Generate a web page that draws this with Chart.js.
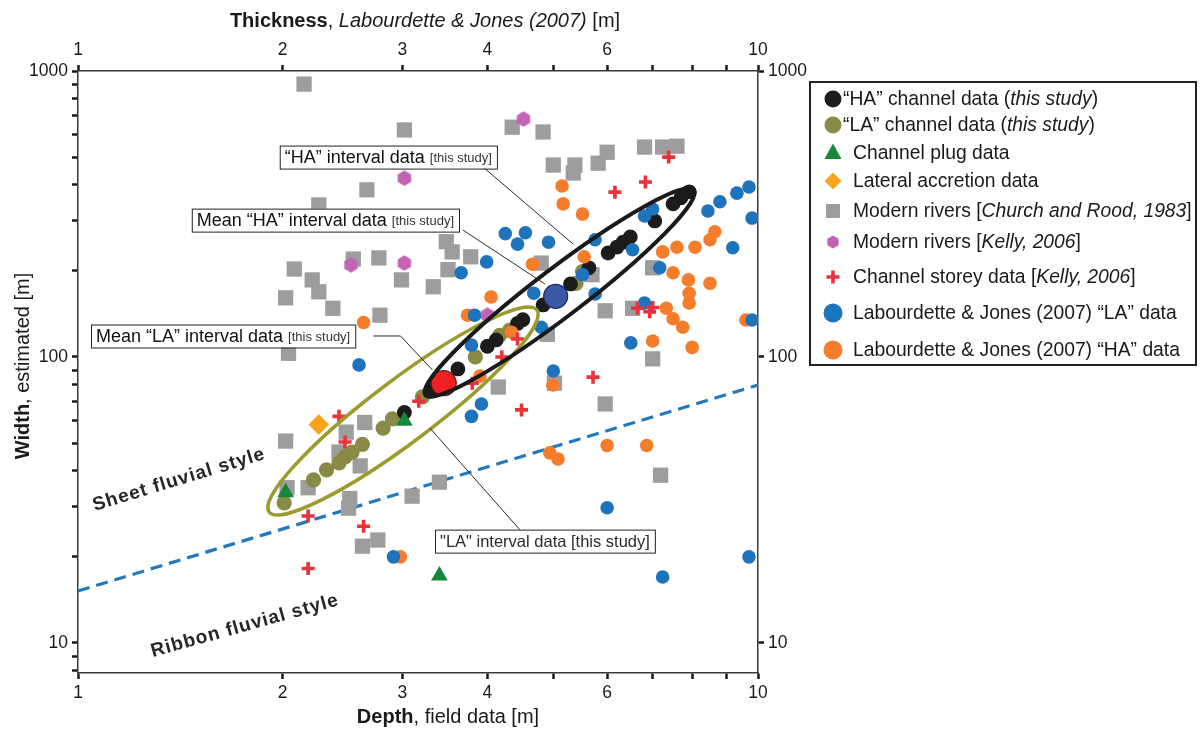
<!DOCTYPE html>
<html>
<head>
<meta charset="utf-8">
<title>Channel width vs depth</title>
<script src="https://cdn.jsdelivr.net/npm/chart.js@4.4.1/dist/chart.umd.min.js"></script>
<style>
html,body{margin:0;padding:0;background:#fff;overflow:hidden;}
#box{position:relative;width:1203px;height:731px;}
</style>
</head>
<body>
<div id="box"><canvas id="chart" width="1203" height="731"></canvas></div>
<script>
// ---------- axis ticks ----------
const depthTickValues = [1,2,3,4,5,6,7,8,9,10];
const depthTickLabels = [1,2,3,4,6,10];
const widthTickValues = [8,9,10,20,30,40,50,60,70,80,90,100,200,300,400,500,600,700,800,900,1000];
const widthTickLabels = [10,100,1000];

// ---------- series (depth [m], width [m]) ----------
const haChannelDepth = [7.92,7.7,7.5,7.05,6.49,6.33,6.2,6.02,5.64,5.3,4.83,4.51,4.43,4.12,4.0,3.62,3.31,3.02];
const haChannelWidth = [378,360,343,299,263,252,242,231,205,180,152,135,131,114.7,109,90.8,76.7,64];

const laChannelDepth = [2.01,2.22,2.32,2.42,2.47,2.53,2.62,2.81,2.9,3.21,3.84,4.17,4.31,5.4,5.52];
const laChannelWidth = [30.9,37.2,40.3,42.6,44.7,46.5,49.5,56.4,60.7,72.5,100,119,124,181,199];

const plugDepth = [2.02,3.02,3.4];
const plugWidth = [33.6,59.7,17.2];

const lateralDepth = [2.26];
const lateralWidth = [58];

const churchDepth = [2.15,3.02,2.66,2.26,2.54,2.77,2.08,2.21,2.99,2.26,2.02,2.37,2.78,2.04,4.83,4.35,3.48,3.55,3.78,3.50,3.33,4.80,5.00,5.38,5.35,5.82,6.00,6.81,7.24,7.60,5.70,7.00,5.96,6.54,7.00,4.90,4.15,5.02,5.96,7.19,3.40,3.10,2.02,2.64,2.48,2.42,2.60,2.18,2.03,2.51,2.50,2.76,2.62];
const churchWidth = [900,622,384,340,220,222,203,186,186,169,161,148,140,103,612,636,253,233,224,202,176,213,469,469,440,476,520,542,542,546,194,205,145,148,98.5,120,78.5,81,68.5,38.6,36.5,32.6,50.8,59,54.6,46.5,41.6,34.9,34.9,32,29.6,22.9,21.8];

const kellyRiverDepth = [4.52,3.02,2.52,3.02,4.0];
const kellyRiverWidth = [679,422,210,213,140];

const storeyDepth = [7.39,6.16,6.83,6.65,7.0,6.93,4.43,4.2,3.8,5.72,4.49,3.17,2.42,2.47,2.18,2.63,2.18];
const storeyWidth = [500,377,409,148,149,144,115.6,100,81,85,65.3,70,62,50.4,27.8,25.6,18.2];

const ljLaDepth = [4.25,4.55,4.43,4.92,3.99,3.66,5.76,6.54,6.81,7.0,8.44,8.79,9.31,9.7,9.8,9.18,7.17,5.52,5.76,4.68,3.83,4.8,3.79,6.5,9.8,6.81,5.0,3.92,3.79,6.0,9.7,7.24,2.91,2.59];
const ljLaWidth = [270,272,248,252,215,197,257,237,311,329,324,349,374,393,306,241,205,194,166,167,140,127,110,112,134.7,154.5,89.3,68.5,62,29.7,20,17.0,20,93.8];

const ljHaDepth = [5.15,5.17,5.52,4.66,5.55,4.05,3.74,4.34,7.24,7.6,8.08,8.5,8.64,7.5,7.9,8.5,7.92,7.92,7.33,7.5,7.75,8.0,7.0,9.6,3.9,4.99,4.94,5.08,6.0,6.86,2.98,2.63];
const ljHaWidth = [396,343,316,211,224,162,140,122,233,242,242,257,274,197,186,181,167,154.5,148,136,127,108,113.7,134.7,85.8,79.8,46.2,44,49,49,20,132];

const meanHaDepth = [5.04];
const meanHaWidth = [163];
const meanLaDepth = [3.45];
const meanLaWidth = [81];

const boundaryDepth = [1,10];
const boundaryWidth = [15.2,79.8];

// ---------- labels ----------
const seriesNames = [
  '“HA” channel data (this study)',
  '“LA” channel data (this study)',
  'Channel plug data',
  'Lateral accretion data',
  'Modern rivers [Church and Rood, 1983]',
  'Modern rivers [Kelly, 2006]',
  'Channel storey data [Kelly, 2006]',
  'Labourdette & Jones (2007) “LA” data',
  'Labourdette & Jones (2007) “HA” data'
];

const FONT = "'Liberation Sans', Arial, Helvetica, sans-serif";
const C = {
  black:'#1c1c1c', olive:'#8a8a47', green:'#14883d', amber:'#f8a41c', gray:'#9d9d9d',
  pink:'#c462b4', red:'#e8333b', blue:'#1e74bc', orange:'#f47c2b',
  meanRed:'#ee2024', meanBlue:'#3b58a6', dash:'#2379bd', oliveRing:'#9c9c2e'
};

function pts(xs, ys){ return xs.map((v,i)=>({x:v, y:ys[i]})); }

function hexCanvas(size, color){
  const c = document.createElement('canvas');
  c.width = size; c.height = size;
  const g = c.getContext('2d');
  const r = size/2;
  g.fillStyle = color;
  g.beginPath();
  for(let i=0;i<6;i++){
    const a = Math.PI/3*i - Math.PI/2;
    const X = r + (r-0.3)*Math.cos(a), Y = r + (r-0.3)*Math.sin(a);
    if(i) g.lineTo(X,Y); else g.moveTo(X,Y);
  }
  g.closePath(); g.fill();
  return c;
}
const hexPoint = hexCanvas(16, C.pink);

const datasets = [
  {label:'Mean “LA” interval data', data:pts(meanLaDepth,meanLaWidth), pointStyle:'circle', pointRadius:12.5,
   backgroundColor:C.meanRed, borderColor:'#5a1a1a', borderWidth:1.2, order:0},
  {label:'Mean “HA” interval data', data:pts(meanHaDepth,meanHaWidth), pointStyle:'circle', pointRadius:12,
   backgroundColor:C.meanBlue, borderColor:'#1d2b5c', borderWidth:1.2, order:0},
  {label:seriesNames[0], data:pts(haChannelDepth,haChannelWidth), pointStyle:'circle', pointRadius:7.4,
   backgroundColor:C.black, borderWidth:0, order:6},
  {label:seriesNames[1], data:pts(laChannelDepth,laChannelWidth), pointStyle:'circle', pointRadius:7.6,
   backgroundColor:C.olive, borderWidth:0, order:7},
  {label:seriesNames[2], data:pts(plugDepth,plugWidth), pointStyle:'triangle', pointRadius:9.6,
   backgroundColor:C.green, borderWidth:0, order:1},
  {label:seriesNames[3], data:pts(lateralDepth,lateralWidth), pointStyle:'rectRot', pointRadius:10.3,
   backgroundColor:C.amber, borderWidth:0, order:2},
  {label:seriesNames[4], data:pts(churchDepth,churchWidth), pointStyle:'rect', pointRadius:10.8,
   backgroundColor:C.gray, borderWidth:0, order:9},
  {label:seriesNames[5], data:pts(kellyRiverDepth,kellyRiverWidth), pointStyle:hexPoint, pointRadius:8,
   backgroundColor:C.pink, borderWidth:0, order:8},
  {label:seriesNames[6], data:pts(storeyDepth,storeyWidth), pointStyle:'cross', pointRadius:6.5,
   backgroundColor:C.red, borderColor:C.red, borderWidth:3.6, order:3},
  {label:seriesNames[7], data:pts(ljLaDepth,ljLaWidth), pointStyle:'circle', pointRadius:6.8,
   backgroundColor:C.blue, borderWidth:0, order:4},
  {label:seriesNames[8], data:pts(ljHaDepth,ljHaWidth), pointStyle:'circle', pointRadius:6.8,
   backgroundColor:C.orange, borderWidth:0, order:5},
  {type:'line', label:'Sheet / ribbon boundary', data:pts(boundaryDepth,boundaryWidth), showLine:true,
   pointRadius:0, borderColor:C.dash, borderWidth:3.2, borderDash:[12,7], fill:false, order:10}
];

// ---------- annotations (anchored in data space) ----------
const ellipses = [
  {from:[1.91,28.7], to:[4.73,146], minor:31, color:C.oliveRing, width:3.5},
  {from:[3.24,73.6], to:[8.05,384], minor:24, color:'#1a1a1a', width:4}
];
const callouts = [
  {main:'“HA” interval data ', note:'[this study]', at:[1.98,500], line:[[3.94,462],[5.35,248]]},
  {main:'Mean “HA” interval data ', note:'[this study]', at:[1.47,301], line:[[3.68,278],[4.86,180]]},
  {main:'Mean “LA” interval data ', note:'[this study]', at:[1.045,118.4], line:[[2.72,118.4],[2.98,118.4],[3.32,90.1]]},
  {main:'"LA" interval data [this study]', note:'', plain:true, at:[3.35,22.7], line:[[4.47,24.8],[3.29,56.5]]}
];
const styleNotes = [
  {text:'Sheet fluvial style', at:[1.408,37.2], angle:-17},
  {text:'Ribbon fluvial style', at:[1.76,11.47], angle:-15.5}
];

function drawSegs(ctx, segs, x, y, align){
  let total = 0;
  segs.forEach(s=>{ ctx.font = s.f; s.w = ctx.measureText(s.t).width; total += s.w; });
  let cx = align === 'center' ? x - total/2 : x;
  segs.forEach(s=>{ ctx.font = s.f; ctx.fillStyle = s.c || '#1a1a1a'; ctx.textAlign='left'; ctx.fillText(s.t, cx, y); cx += s.w; });
  return total;
}

function drawMarker(ctx, kind, color, x, y, r){
  ctx.save();
  ctx.fillStyle = color; ctx.strokeStyle = color;
  ctx.beginPath();
  if(kind==='circle'){ ctx.arc(x,y,r,0,Math.PI*2); ctx.fill(); }
  else if(kind==='triangle'){ ctx.moveTo(x, y-r); ctx.lineTo(x+r*0.9, y+r*0.62); ctx.lineTo(x-r*0.9, y+r*0.62); ctx.closePath(); ctx.fill(); }
  else if(kind==='diamond'){ ctx.moveTo(x-r,y); ctx.lineTo(x,y-r); ctx.lineTo(x+r,y); ctx.lineTo(x,y+r); ctx.closePath(); ctx.fill(); }
  else if(kind==='square'){ ctx.rect(x-r,y-r,2*r,2*r); ctx.fill(); }
  else if(kind==='hex'){ for(let i=0;i<6;i++){const a=Math.PI/3*i-Math.PI/2; const X=x+r*Math.cos(a), Y=y+r*Math.sin(a); i?ctx.lineTo(X,Y):ctx.moveTo(X,Y);} ctx.closePath(); ctx.fill(); }
  else if(kind==='cross'){ ctx.lineWidth=3.6; ctx.moveTo(x-r,y); ctx.lineTo(x+r,y); ctx.moveTo(x,y-r); ctx.lineTo(x,y+r); ctx.stroke(); }
  ctx.restore();
}

const LF = 19.3;
const nF = `${LF}px ${FONT}`, iF = `italic ${LF}px ${FONT}`;
const legendRows = [
  {kind:'circle', color:C.black, r:8.5, dy:17, tx:843, segs:[{t:'“HA” channel data (',f:nF},{t:'this study',f:iF},{t:')',f:nF}]},
  {kind:'circle', color:C.olive, r:8.5, dy:43, tx:843, segs:[{t:'“LA” channel data (',f:nF},{t:'this study',f:iF},{t:')',f:nF}]},
  {kind:'triangle', color:C.green, r:9.5, dy:71, tx:853, segs:[{t:'Channel plug data',f:nF}]},
  {kind:'diamond', color:C.amber, r:8.5, dy:99, tx:853, segs:[{t:'Lateral accretion data',f:nF}]},
  {kind:'square', color:C.gray, r:7, dy:129, tx:853, segs:[{t:'Modern rivers [',f:nF},{t:'Church and Rood, 1983',f:iF},{t:']',f:nF}]},
  {kind:'hex', color:C.pink, r:6.5, dy:160, tx:853, segs:[{t:'Modern rivers [',f:nF},{t:'Kelly, 2006',f:iF},{t:']',f:nF}]},
  {kind:'cross', color:C.red, r:6.5, dy:195, tx:853, segs:[{t:'Channel storey data [',f:nF},{t:'Kelly, 2006',f:iF},{t:']',f:nF}]},
  {kind:'circle', color:C.blue, r:9.5, dy:231, tx:853, segs:[{t:'Labourdette & Jones (2007) “LA” data',f:nF}]},
  {kind:'circle', color:C.orange, r:9.5, dy:268, tx:853, segs:[{t:'Labourdette & Jones (2007) “HA” data',f:nF}]}
];

const overlay = {
  id:'overlay',
  afterDatasetsDraw(chart){
    const ctx = chart.ctx, xs = chart.scales.x, ys = chart.scales.y;
    const X = v=>xs.getPixelForValue(v), Y = v=>ys.getPixelForValue(v);
    ctx.save();
    // ellipses
    ellipses.forEach(e=>{
      const x1=X(e.from[0]), y1=Y(e.from[1]), x2=X(e.to[0]), y2=Y(e.to[1]);
      const cx=(x1+x2)/2, cy=(y1+y2)/2, a=Math.hypot(x2-x1,y2-y1)/2, ang=Math.atan2(y2-y1,x2-x1);
      ctx.beginPath(); ctx.ellipse(cx,cy,a,e.minor,ang,0,Math.PI*2);
      ctx.strokeStyle=e.color; ctx.lineWidth=e.width; ctx.stroke();
    });
    // leader lines
    ctx.strokeStyle='#2a2a2a'; ctx.lineWidth=1;
    callouts.forEach(c=>{
      ctx.beginPath();
      c.line.forEach((p,i)=>{ const px=X(p[0]), py=Y(p[1]); i?ctx.lineTo(px,py):ctx.moveTo(px,py); });
      ctx.stroke();
    });
    // boxes
    ctx.textBaseline='middle';
    callouts.forEach(c=>{
      const segs = c.plain ? [{t:c.main, f:`16.5px ${FONT}`, c:'#2a2a2a'}]
                           : [{t:c.main, f:`18px ${FONT}`, c:'#111'},{t:c.note, f:`13px ${FONT}`, c:'#333'}];
      let w=0; segs.forEach(s=>{ctx.font=s.f; w+=ctx.measureText(s.t).width;});
      const bx=X(c.at[0]), by=Y(c.at[1]), pad=5, h=23;
      ctx.fillStyle='#fff'; ctx.fillRect(bx, by-h/2, w+2*pad, h);
      ctx.strokeStyle='#222'; ctx.lineWidth=1; ctx.strokeRect(bx+0.5, by-h/2+0.5, w+2*pad, h);
      drawSegs(ctx, segs, bx+pad, by+1, 'left');
    });
    // rotated style notes
    styleNotes.forEach(n=>{
      ctx.save();
      ctx.translate(X(n.at[0]), Y(n.at[1]));
      ctx.rotate(n.angle*Math.PI/180);
      ctx.font=`bold 19px ${FONT}`;
      try{ ctx.letterSpacing='1px'; }catch(e){}
      ctx.fillStyle='#262626'; ctx.textAlign='center'; ctx.textBaseline='middle';
      ctx.fillText(n.text,0,0);
      ctx.restore();
    });
    ctx.restore();
  },
  afterDraw(chart){
    const ctx = chart.ctx;
    ctx.save();
    ctx.textBaseline='middle';
    // axis titles
    drawSegs(ctx, [{t:'Thickness',f:`bold 20px ${FONT}`},{t:', ',f:`20px ${FONT}`},
      {t:'Labourdette & Jones (2007)',f:`italic 20px ${FONT}`},{t:' [m]',f:`20px ${FONT}`}], 425, 21, 'center');
    drawSegs(ctx, [{t:'Depth',f:`bold 20px ${FONT}`},{t:', field data [m]',f:`20px ${FONT}`}], 448, 717, 'center');
    ctx.save();
    ctx.translate(23, 366); ctx.rotate(-Math.PI/2);
    drawSegs(ctx, [{t:'Width',f:`bold 20px ${FONT}`},{t:', estimated [m]',f:`20px ${FONT}`}], 0, 0, 'center');
    ctx.restore();
    // legend
    const L=810, T=82, W=386, H=283;
    ctx.fillStyle='#fff'; ctx.fillRect(L,T,W,H);
    ctx.strokeStyle='#222'; ctx.lineWidth=2; ctx.strokeRect(L,T,W,H);
    legendRows.forEach(r=>{
      drawMarker(ctx, r.kind, r.color, 833, T+r.dy, r.r);
      drawSegs(ctx, r.segs, r.tx, T+r.dy+1, 'left');
    });
    ctx.restore();
  }
};

function tickAxis(pos, kind){
  const isX = kind==='x';
  const values = isX ? depthTickValues : (pos==='right' ? widthTickLabels : widthTickValues);
  const labels = isX ? depthTickLabels : widthTickLabels;
  return {
    type:'logarithmic', position:pos,
    min: isX ? 1 : 7.85, max: isX ? 10 : 1000,
    afterBuildTicks: s=>{ s.ticks = values.map(v=>({value:v})); },
    afterFit: s=>{
      if(pos==='bottom') s.height = 58;
      if(pos==='top') s.height = 71;
      if(pos==='left') s.width = 78;
      if(pos==='right') s.width = 445;
    },
    ticks:{
      autoSkip:false, maxRotation:0, minRotation:0, padding:4,
      color:'#1a1a1a', font:{family:FONT, size:17.5},
      callback: v => labels.includes(v) ? String(v) : ''
    },
    grid:{ drawOnChartArea:false, drawTicks:true, tickLength:6, tickWidth:2.5, tickColor:'#1a1a1a' },
    border:{ display:true, color:'#3a3a3a', width:1.5 }
  };
}

new Chart(document.getElementById('chart'), {
  type:'scatter',
  data:{ datasets },
  options:{
    responsive:false, animation:false, devicePixelRatio:1,
    layout:{ padding:0 },
    plugins:{ legend:{display:false}, tooltip:{enabled:false}, title:{display:false} },
    scales:{
      x: tickAxis('bottom','x'),
      x2: tickAxis('top','x'),
      y: tickAxis('left','y'),
      y2: tickAxis('right','y')
    }
  },
  plugins:[overlay]
});
</script>
</body>
</html>
